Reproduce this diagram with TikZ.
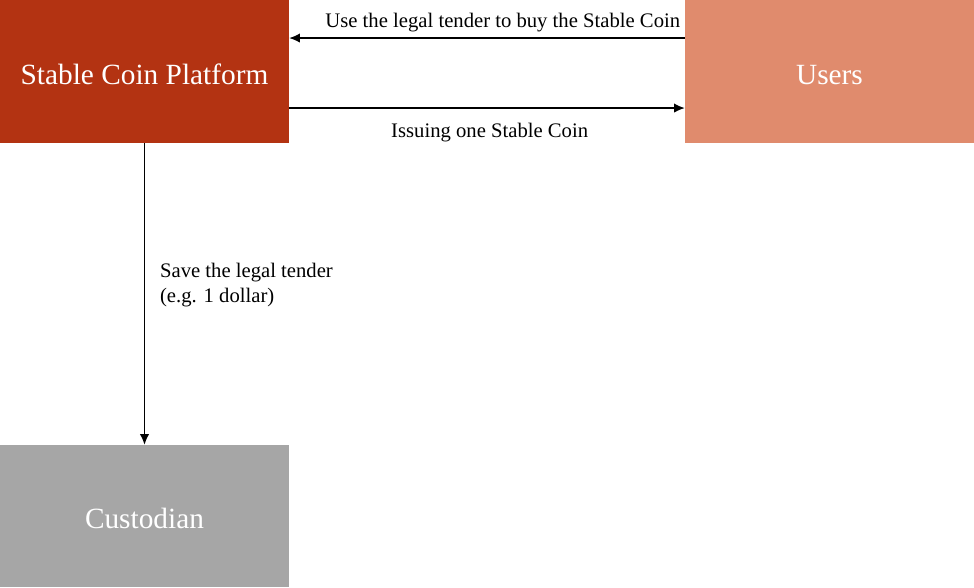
\documentclass[tikz,border=0pt]{standalone}
\usepackage{fontspec}
\setmainfont{Liberation Serif}
\usetikzlibrary{calc,arrows.meta}

\definecolor{platformred}{HTML}{B33312}
\definecolor{userpink}{HTML}{E08B6D}
\definecolor{custgray}{HTML}{A6A6A6}

\begin{document}
\begin{tikzpicture}[x=0.75pt,y=-0.75pt,
    party/.style={minimum width=216.75pt, minimum height=107pt, inner sep=0pt,
        text height=19pt, text depth=0pt,
        text=white, font=\fontsize{22}{26}\selectfont},
    flow/.style={-{Latex[length=8pt,width=7pt]}, line width=0.9pt},
    note/.style={font=\fontsize{15.5}{18.75}\selectfont, inner sep=0pt}]
            \useasboundingbox (0,0) rectangle (974,587);

            \node[party, fill=platformred] (platform) at (144.5,71.5) {Stable Coin Platform};
            \node[party, fill=userpink] (users) at (829.5,71.5) {Users};
            \node[party, fill=custgray, minimum height=106.5pt] (custodian) at (144.5,516) {Custodian};

            \draw[flow] ([yshift=25.1pt]users.west) -- ([yshift=25.1pt]platform.east)
                node[note, pos=0, anchor=base east, xshift=-3pt, yshift=8.25pt] {Use the legal tender to buy the Stable Coin};
            \draw[flow] ([yshift=-27.4pt]platform.east) -- ([yshift=-27.4pt]users.west)
                node[note, midway, anchor=base, xshift=2pt, yshift=-21.75pt] {Issuing one Stable Coin};
            \draw[flow] (platform.south) -- (custodian.north)
                node[note, pos=0.47, anchor=west, xshift=11.25pt, align=left] {Save the legal tender\\(e.g. 1 dollar)};
        \end{tikzpicture}
\end{document}
